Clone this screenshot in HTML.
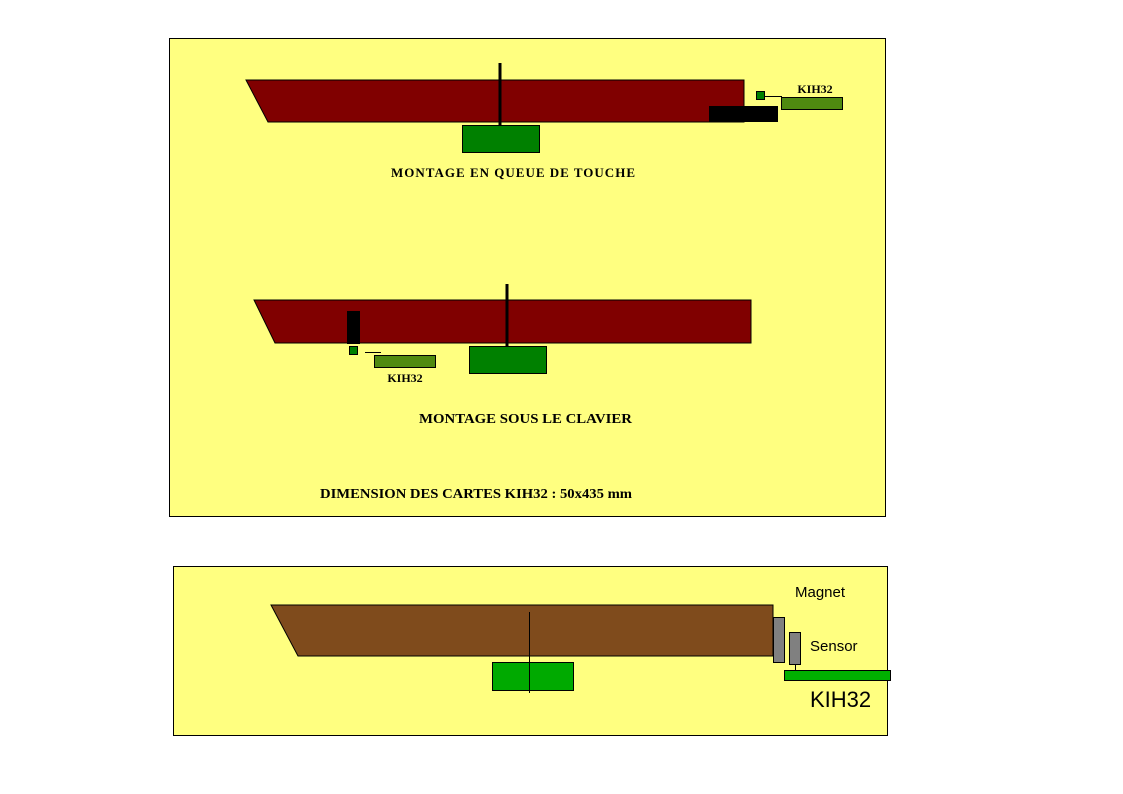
<!DOCTYPE html>
<html><head><meta charset="utf-8"><style>html,body{margin:0;padding:0;background:#fff}svg{display:block}</style></head>
<body>
<svg width="1123" height="794" viewBox="0 0 1123 794" xmlns="http://www.w3.org/2000/svg">
<rect x="169.5" y="38.5" width="716" height="478" fill="#FFFF80" stroke="#000" stroke-width="1"/>
<polygon points="246,80 744,80 744,122 268,122" fill="#800000" stroke="#000" stroke-width="1"/>
<rect x="709" y="106" width="69" height="16" fill="#000"/>
<rect x="498.5" y="63" width="3" height="63" fill="#000"/>
<rect x="462.5" y="125.5" width="77" height="27" fill="#008000" stroke="#000" stroke-width="1"/>
<rect x="756.5" y="91.5" width="8" height="8" fill="#008000" stroke="#000" stroke-width="1"/>
<line x1="765" y1="96.5" x2="782" y2="96.5" stroke="#000" stroke-width="1"/>
<rect x="781.5" y="97.5" width="61" height="12" fill="#4F8A10" stroke="#000" stroke-width="1"/>
<text x="815" y="93" font-family="Liberation Serif, serif" font-weight="bold" font-size="12" text-anchor="middle">KIH32</text>
<text x="391" y="177" font-family="Liberation Serif, serif" font-weight="bold" font-size="13" textLength="244" lengthAdjust="spacing">MONTAGE EN QUEUE DE TOUCHE</text>
<polygon points="254,300 751,300 751,343 275,343" fill="#800000" stroke="#000" stroke-width="1"/>
<rect x="347" y="311" width="13" height="33" fill="#000"/>
<rect x="505.5" y="284" width="3" height="63" fill="#000"/>
<rect x="469.5" y="346.5" width="77" height="27" fill="#008000" stroke="#000" stroke-width="1"/>
<rect x="349.5" y="346.5" width="8" height="8" fill="#008000" stroke="#000" stroke-width="1"/>
<line x1="365" y1="352.5" x2="381" y2="352.5" stroke="#000" stroke-width="1"/>
<rect x="374.5" y="355.5" width="61" height="12" fill="#4F8A10" stroke="#000" stroke-width="1"/>
<text x="405" y="382" font-family="Liberation Serif, serif" font-weight="bold" font-size="12" text-anchor="middle">KIH32</text>
<text x="419" y="423" font-family="Liberation Serif, serif" font-weight="bold" font-size="14" textLength="213" lengthAdjust="spacingAndGlyphs">MONTAGE SOUS LE CLAVIER</text>
<text x="320" y="498" font-family="Liberation Serif, serif" font-weight="bold" font-size="14" textLength="312" lengthAdjust="spacingAndGlyphs">DIMENSION DES CARTES KIH32 : 50x435 mm</text>
<rect x="173.5" y="566.5" width="714" height="169" fill="#FFFF80" stroke="#000" stroke-width="1"/>
<polygon points="271,605 773,605 773,656 298,656" fill="#7F4B1C" stroke="#000" stroke-width="1"/>
<rect x="492.5" y="662.5" width="81" height="28" fill="#00AA00" stroke="#000" stroke-width="1"/>
<line x1="529.5" y1="612" x2="529.5" y2="693" stroke="#000" stroke-width="1"/>
<rect x="773.5" y="617.5" width="11" height="45" fill="#808080" stroke="#000" stroke-width="1"/>
<rect x="789.5" y="632.5" width="11" height="32" fill="#808080" stroke="#000" stroke-width="1"/>
<line x1="795.5" y1="664" x2="795.5" y2="670" stroke="#000" stroke-width="1"/>
<rect x="784.5" y="670.5" width="106" height="10" fill="#00B000" stroke="#000" stroke-width="1"/>
<text x="795" y="597" font-family="Liberation Sans, sans-serif" font-size="15">Magnet</text>
<text x="810" y="651" font-family="Liberation Sans, sans-serif" font-size="15">Sensor</text>
<text x="810" y="707" font-family="Liberation Sans, sans-serif" font-size="22">KIH32</text>
</svg>
</body></html>
